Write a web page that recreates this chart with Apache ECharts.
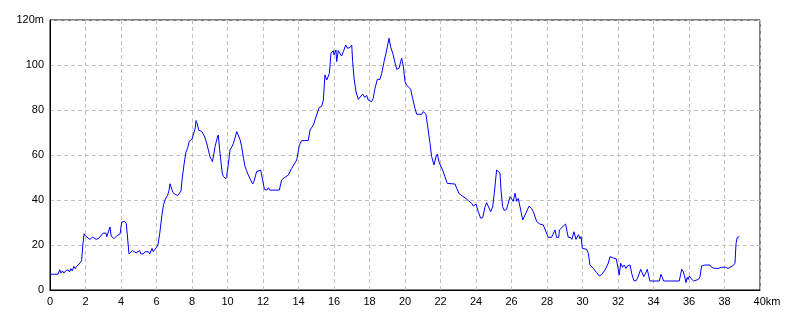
<!DOCTYPE html>
<html>
<head>
<meta charset="utf-8">
<script src="https://cdn.jsdelivr.net/npm/echarts@6/dist/echarts.min.js"></script>
<style>
html,body{margin:0;padding:0;background:#fff;}
#c{width:800px;height:320px;}
</style>
</head>
<body>
<div id="c"></div>
<script>
const xTicks = [0,2,4,6,8,10,12,14,16,18,20,22,24,26,28,30,32,34,36,38,40];
const yTicks = [0,20,40,60,80,100,120];
const xUnit = 'km';
const yUnit = 'm';

const distanceKm = [
0,0.45,0.55,0.62,0.7,0.78,0.88,0.95,1.02,1.1,1.18,1.25,1.35,1.42,1.5,1.6,1.69,1.78,1.85,1.92,
2.0,2.1,2.25,2.4,2.5,2.6,2.75,2.85,3.0,3.15,3.2,3.3,3.38,3.45,3.55,3.6,3.75,3.85,3.95,4.0,
4.04,4.15,4.2,4.3,4.38,4.45,4.55,4.65,4.75,4.85,4.95,5.05,5.12,5.25,5.35,5.45,5.55,5.62,5.7,5.75,
5.82,5.9,6.0,6.08,6.18,6.3,6.4,6.5,6.58,6.62,6.7,6.76,6.85,6.92,6.98,7.05,7.1,7.2,7.29,7.38,
7.45,7.55,7.65,7.75,7.85,8.0,8.1,8.18,8.23,8.3,8.38,8.45,8.55,8.64,8.72,8.83,9.01,9.1,9.15,9.22,
9.3,9.4,9.48,9.55,9.62,9.7,9.77,9.85,9.9,9.95,10.05,10.14,10.25,10.33,10.42,10.52,10.61,10.7,10.8,10.9,
10.99,11.08,11.17,11.3,11.42,11.5,11.64,11.75,11.87,11.98,12.08,12.15,12.22,12.3,12.38,12.92,13.05,13.24,13.43,13.52,
13.61,13.71,13.9,14.05,14.18,14.55,14.65,14.84,15.02,15.17,15.3,15.4,15.49,15.59,15.74,15.83,15.96,16.0,16.11,16.15,
16.24,16.34,16.43,16.53,16.66,16.77,16.9,17.0,17.05,17.13,17.24,17.37,17.46,17.61,17.74,17.84,17.93,18.02,18.12,18.2,
18.31,18.44,18.59,18.69,18.82,18.97,19.1,19.19,19.31,19.4,19.53,19.66,19.76,19.81,19.91,20.0,20.1,20.19,20.32,20.43,
20.56,20.66,20.94,21.03,21.18,21.28,21.41,21.5,21.63,21.75,21.82,21.93,22.12,22.25,22.38,22.82,22.91,23.06,23.17,23.38,
23.57,23.76,23.85,24.0,24.13,24.26,24.38,24.51,24.6,24.7,24.83,24.94,25.03,25.16,25.22,25.35,25.41,25.5,25.59,25.72,
25.82,25.92,26.01,26.1,26.2,26.29,26.38,26.48,26.63,26.76,26.85,26.99,27.13,27.23,27.42,27.6,27.79,27.94,28.07,28.26,
28.34,28.45,28.54,28.66,28.7,28.8,28.92,29.05,29.13,29.2,29.33,29.4,29.52,29.63,29.77,29.86,29.92,29.99,30.23,30.33,
30.42,30.61,30.8,30.95,31.08,31.27,31.45,31.55,31.74,31.9,31.97,32.07,32.15,32.26,32.35,32.45,32.54,32.63,32.68,32.77,
32.9,33.02,33.1,33.2,33.28,33.36,33.45,33.55,33.65,33.74,33.8,34.33,34.42,34.5,34.57,35.45,35.59,35.68,35.78,35.83,
35.9,35.95,36.02,36.1,36.18,36.26,36.53,36.62,36.71,36.9,37.18,37.27,37.38,37.45,37.55,37.64,37.82,37.9,38.05,38.2,
38.3,38.46,38.59,38.65,38.72,38.83
];

const elevationM = [
7,7,9,7.5,8.5,7.5,8.5,8,9,8,9.5,8.5,10.5,9.5,10.5,11,12,13,20,25,
24,23.5,22.5,23.5,23.5,22.5,23,23.5,25.3,25.3,23.7,23.7,28,24,24,22.8,24,24.5,25,24.5,
30.2,30,30.5,29.5,29.5,16,16,17.5,17.5,16.5,16.5,17.5,16,16,17,16.5,17,16,16,18.5,
17,17,19,20,25,33,38,40.4,40,42,44,47.2,46.4,43.4,44,42.5,43,42,41.5,44,
49.8,55.7,61,63,66.2,67,67,72,75.3,73.8,71,71,70.5,70.4,68,65.2,59.3,58,57,60,
63.7,67,68.9,63,57.8,52,50.4,51,49.5,50.4,56,62.2,63.7,65.2,67.5,70.4,70.4,67,63.7,58.5,
54.8,53,51.1,49,47.1,48.5,52.6,53.3,53.3,48.9,44.7,45.5,44.4,45.5,44.4,44.4,48.9,50.1,51.1,51.9,
54,54.8,57.8,64.4,66.4,66.4,71.1,73.3,77.8,81.2,81.5,84.4,95.6,93.3,96.3,105.2,106.4,104.5,106.7,101.5,
106.4,105,104,106,108.9,107.4,107.8,108.9,101.5,94.1,88.1,84.7,85,87.1,85.6,86.5,84.4,85,83.7,85,
89.6,93.6,93.6,96.3,101.5,106.7,111.9,108.1,105.2,102.2,98.1,98.5,101.5,103,99.3,92.6,91,90.4,89.2,85.2,
80.7,78.1,78.1,79.3,78.1,72.6,65.2,59.3,55.6,59.3,60.4,56.5,53.3,50.4,47.4,47.1,45.2,42.7,41.9,41,
39.7,38.5,37.3,38.2,34.8,31.9,32.2,37,38.8,38.2,34.8,37,43,53.3,54,52,44.4,37,35.3,35.8,
36.2,41.5,42,39.4,43,39.4,40.7,37,31.1,33.3,33.8,37.3,36.2,34.8,30.4,29.3,28.9,25.9,23.4,23.4,
23.4,26.7,23.4,23.4,26.7,26.7,28.4,29.3,25.9,23.4,23.4,22.5,25.9,22.5,24.6,22.8,23.8,18.5,18.1,16.3,
11.1,9.6,7.7,6.2,6.9,8.9,11.9,14.8,14.2,13.9,11.1,6.7,11.9,10.1,11.1,9.6,10.7,10.4,11.1,7.4,
4.1,4.1,5.2,5.2,9.2,7.7,5.9,7.4,9.2,5.9,4,4,7,5.5,4,4,9.2,8.1,5.2,3.3,
5.6,4.7,6.2,5.2,5.9,4,4.7,5.9,10.7,11.1,11.1,10.1,10.4,9.6,10.4,9.6,10.1,9.6,10.1,9.6,
10.4,10.7,11.9,20.7,23.4,23.7
];

const chart = echarts.init(document.getElementById('c'), null, {renderer: 'canvas'});
const font = '"Liberation Sans", Arial, sans-serif';
const seriesData = distanceKm.map((d, i) => [d, elevationM[i]]);
const xMax = xTicks[xTicks.length - 1];
const yMax = yTicks[yTicks.length - 1];

chart.setOption({
  animation: false,
  backgroundColor: '#ffffff',
  grid: {
    left: 50, right: 40, top: 20, bottom: 30,
    show: true, borderColor: '#000', borderWidth: 1, backgroundColor: 'transparent'
  },
  xAxis: {
    type: 'value', min: xTicks[0], max: xMax, interval: xTicks[1] - xTicks[0],
    axisLine: {show: true, lineStyle: {color: '#000', width: 1}},
    axisTick: {show: false},
    axisLabel: {
      color: '#000', fontFamily: font, fontSize: 11, margin: 6,
      formatter: v => v === xMax ? '{u|' + v + xUnit + '}' : String(v),
      rich: {u: {color: '#000', fontFamily: font, fontSize: 11, padding: [0, 0, 0, 14]}}
    },
    splitLine: {show: true, lineStyle: {color: '#c0c0c0', width: 1, type: [4, 3]}}
  },
  yAxis: {
    type: 'value', min: yTicks[0], max: yMax, interval: yTicks[1] - yTicks[0],
    axisLine: {show: true, lineStyle: {color: '#000', width: 1}},
    axisTick: {show: false},
    axisLabel: {
      color: '#000', fontFamily: font, fontSize: 11, margin: 6,
      formatter: v => v === yMax ? v + yUnit : String(v)
    },
    splitLine: {show: true, lineStyle: {color: '#c0c0c0', width: 1, type: [4, 3]}}
  },
  series: [{
    type: 'line',
    data: seriesData,
    showSymbol: false,
    symbol: 'none',
    lineStyle: {color: '#0000ff', width: 1},
    itemStyle: {color: '#0000ff'},
    z: 3
  }]
});
</script>
</body>
</html>
